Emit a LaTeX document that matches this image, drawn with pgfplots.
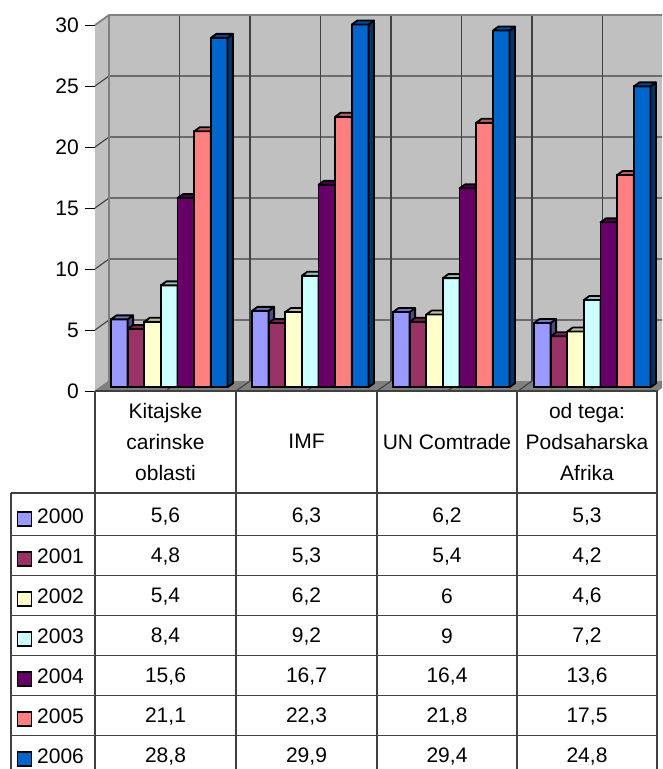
\documentclass[border=0pt]{standalone}
\usepackage{fontspec}
\setmainfont{Liberation Sans}
\usepackage{pgfplots}
\usepackage{pgfplotstable}
\pgfplotsset{compat=1.18}

\definecolor{c0}{HTML}{9999FF}
\definecolor{c1}{HTML}{993366}
\definecolor{c2}{HTML}{FFFFCC}
\definecolor{c3}{HTML}{CCFFFF}
\definecolor{c4}{HTML}{660066}
\definecolor{c5}{HTML}{FF8080}
\definecolor{c6}{HTML}{0066CC}
\definecolor{wall}{HTML}{C0C0C0}
\definecolor{edge}{HTML}{808080}
\definecolor{rule}{HTML}{404040}

\pgfplotstableread{
year a b c d
2000 5.6 6.3 6.2 5.3
2001 4.8 5.3 5.4 4.2
2002 5.4 6.2 6 4.6
2003 8.4 9.2 9 7.2
2004 15.6 16.7 16.4 13.6
2005 21.1 22.3 21.8 17.5
2006 28.8 29.9 29.4 24.8
}\data

% 1 px = 1 pt, category 141 px, one value unit about 12.2 px
\newcommand{\getval}[3]{\pgfplotstablegetelem{#1}{#2}\of\data\edef#3{\pgfplotsretval}}

% side and top face of one bar: category, series, value
\newcommand{\faces}[3]{%
  \pgfmathsetmacro\xl{#1+(16+#2*16.64)/141}%
  \pgfmathsetmacro\xr{#1+(16+(#2+1)*16.64)/141}%
  \pgfmathsetmacro\xL{\xl+0.039}%
  \pgfmathsetmacro\xR{\xr+0.039}%
  \pgfmathsetmacro\yt{#3+0.33}%
  \edef\temp{\noexpand\addplot[draw=black,line width=1.8pt,line join=round,fill=c#2!50!black]
    coordinates {(\xr,0)(\xR,0.33)(\xR,\yt)(\xr,#3)} --cycle;
    \noexpand\addplot[draw=black,line width=1.8pt,line join=round,fill=c#2!75!black]
    coordinates {(\xl,#3)(\xL,\yt)(\xR,\yt)(\xr,#3)} --cycle;}\temp
}

\begin{document}
\fontsize{21}{25}\selectfont
\begin{tikzpicture}
\path[use as bounding box] (0pt,0pt) rectangle (662pt,-769pt);

% walls, floor and value axis
\begin{axis}[
    at={(95pt,-391pt)}, anchor=south west,
    scale only axis, width=567pt, height=366pt,
    xmin=0, xmax=4.0213, ymin=0, ymax=30,
    clip=false,
    axis x line=none,
    axis y line=left,
    axis line style={-,black,line width=1pt},
    ytick={0,5,...,30},
    tick align=outside,
    major tick length=10pt,
    tick style={black,line width=1pt},
    y tick label style={font=\fontsize{21}{25}\selectfont,xshift=1pt},
    /pgf/number format/assume math mode=true,
]
  \fill[wall] (axis cs:0.0993,0.82) rectangle (axis cs:4.0213,30.82);
  \fill[wall] (axis cs:0,0) -- (axis cs:0.0993,0.82) -- (axis cs:0.0993,30.82) -- (axis cs:0,30) -- cycle;
  \fill[edge] (axis cs:0,0) -- (axis cs:3.993,0) -- (axis cs:4.0213,0.246) -- (axis cs:4.0213,0.82) -- (axis cs:0.0993,0.82) -- cycle;
  \pgfplotsinvokeforeach{5,10,15,20,25}{
    \pgfmathsetmacro\vb{#1+0.82}
    \edef\temp{\noexpand\draw[rule,line width=1.1pt] (axis cs:0,#1) -- (axis cs:0.0993,\vb) -- (axis cs:4.0213,\vb);}\temp
  }
  \pgfplotsinvokeforeach{0.5,1,1.5,2,2.5,3,3.5}{
    \pgfmathsetmacro\kb{#1+0.0993}
    \edef\temp{\noexpand\draw[rule,line width=1.1pt] (axis cs:\kb,0.82) -- (axis cs:\kb,30.82);
      \noexpand\draw[rule,line width=1.1pt] (axis cs:#1,0) -- (axis cs:\kb,0.82);}\temp
  }
  \draw[edge,line width=1.8pt] (axis cs:0,30) -- (axis cs:0.0993,30.82) -- (axis cs:4.0213,30.82);
  \draw[edge,line width=1.8pt] (axis cs:0.0993,0.82) -- (axis cs:0.0993,30.82);
  \draw[edge,line width=1pt] (axis cs:0,0) -- (axis cs:0.0993,0.82);
  \draw[rule,line width=1.2pt] (axis cs:0,0) -- (axis cs:3.993,0);
\end{axis}

% bars stand a little behind the front edge of the floor
\begin{axis}[
    at={(95pt,-387.3pt)}, anchor=south west,
    scale only axis, width=567pt, height=364pt,
    xmin=0, xmax=4.0213, ymin=0, ymax=30,
    clip=false, hide axis,
]
\pgfplotsinvokeforeach{0,...,6}{
  \getval{#1}{a}\va
  \getval{#1}{b}\vb
  \getval{#1}{c}\vc
  \getval{#1}{d}\vd
  \pgfmathsetmacro\sh{16+(#1+0.5)*16.64}
  \edef\temp{\noexpand\addplot[ybar,bar width=16.64pt,bar shift=\sh pt,draw=black,line width=1.8pt,fill=c#1]
    coordinates {(0,\va)(1,\vb)(2,\vc)(3,\vd)};}\temp
  \faces{0}{#1}{\va}
  \faces{1}{#1}{\vb}
  \faces{2}{#1}{\vc}
  \faces{3}{#1}{\vd}
}
\end{axis}

% data table under the plot
\begin{scope}[x=1pt,y=-1pt]
  \foreach \x in {95,236,377,517,657}
    \draw[rule,line width=1.1pt] (\x,391) -- (\x,769);
  \draw[rule,line width=1.1pt] (11,493) -- (11,769);
  \foreach \y in {493,535.5,575.5,615.5,655.5,695.5,735.5}
    \draw[rule,line width=1.1pt] (11,\y) -- (657,\y);

  \node[align=center,font=\fontsize{21}{31}\selectfont] at (165.5,441.5) {Kitajske\\carinske\\oblasti};
  \node at (306.5,441.5) {IMF};
  \node at (447,441.5) {UN Comtrade};
  \node[align=center,font=\fontsize{21}{31}\selectfont] at (587,441.5) {od tega:\\Podsaharska\\Afrika};

  \foreach \i in {0,...,6} {
    \pgfmathsetmacro\ry{516.5+40*\i}
    \pgfmathsetmacro\sy{519+40*\i}
    \getval{\i}{year}\yr
    \draw[black,line width=1.5pt,fill=c\i] (17.5,\sy-7) rectangle (31.5,\sy+7);
    \node[anchor=west,inner sep=0pt] at (37,\ry) {\yr};
    \foreach \col/\cx in {a/165.5,b/306.5,c/447,d/587} {
      \getval{\i}{\col}\cv
      \node at (\cx,\ry) {\pgfmathprintnumber[use comma,assume math mode=true]{\cv}};
    }
  }
\end{scope}
\end{tikzpicture}
\end{document}
